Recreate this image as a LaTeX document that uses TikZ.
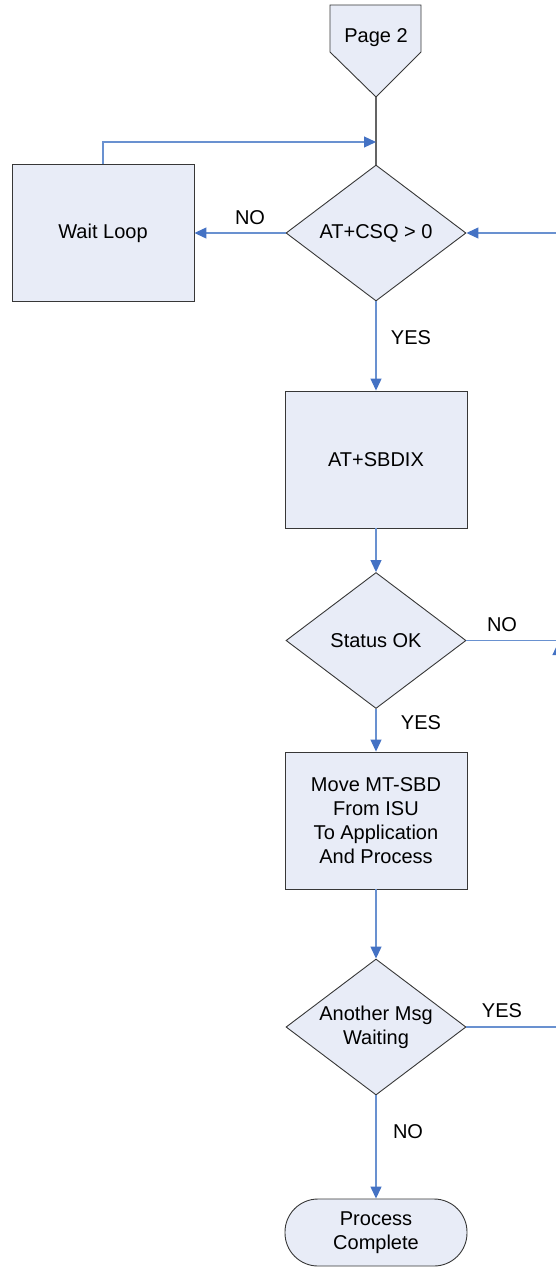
\documentclass[tikz,border=0pt]{standalone}
\usepackage{fontspec}
\setmainfont{Liberation Sans}
\usetikzlibrary{arrows.meta,shapes.geometric,calc}
\definecolor{boxfill}{RGB}{232,236,247}
\definecolor{boxdraw}{RGB}{55,55,55}
\definecolor{conn}{RGB}{105,145,208}
\definecolor{tip}{RGB}{68,114,196}
\definecolor{grayline}{RGB}{100,100,100}
\tikzset{
  base/.style={draw=boxdraw, fill=boxfill, line width=0.9pt, align=center,
    font=\fontsize{20}{24}\selectfont, inner sep=0pt},
  procbox/.style={base, rectangle, minimum width=182pt, minimum height=137pt},
  decision/.style={base, diamond, minimum width=180pt, minimum height=136pt, aspect=1.32},
  terminal/.style={base, rectangle, rounded corners=33pt, minimum width=182pt, minimum height=67pt},
  arr/.style={draw=conn, line width=1.2pt, -{Triangle[length=12pt,width=11pt,fill=tip,color=tip]}},
  plain/.style={draw=conn, line width=1.2pt},
  lbl/.style={font=\fontsize{20}{24}\selectfont, inner sep=0pt},
}
\begin{document}
\begin{tikzpicture}[x=1pt,y=-1pt]
\useasboundingbox (0,0) rectangle (556,1268);
\clip (0,0) rectangle (556,1268);
% off-page connector
\draw[draw=boxdraw, fill=boxfill, line width=0.9pt]
  (330,5) -- (421,5) -- (421,52) -- (376,97) -- (330,52) -- cycle;
\node[lbl] (page2) at (376,38) {Page 2};
\coordinate (page2tip) at (376,97);
% nodes
\node[procbox] (wait) at (103,233) {Wait Loop};
\node[decision] (csq) at (376,233) {AT+CSQ > 0};
\node[procbox] (sbdix) at (376,459.5) {AT+SBDIX};
\node[decision] (status) at (376,640.5) {Status OK};
\node[procbox] (move) at (376,820.5) {Move MT-SBD\\From ISU\\To Application\\And Process};
\node[decision] (another) at (376,1027) {Another Msg\\Waiting};
\node[terminal] (done) at (376,1232.5) {Process\\Complete};
% coordinates
\coordinate (top) at (376,142);
\coordinate (r1) at (558,233);
\coordinate (r2) at (558,640.5);
\coordinate (r2a) at (558,643);
\coordinate (r3) at (558,1027);
% connectors
\draw[draw=grayline, line width=1.4pt] (page2tip) -- (csq.north);
\draw[arr] (wait.north) |- (top);
\draw[arr] (csq.west) -- (wait.east);
\draw[arr] (csq.south) -- (sbdix.north);
\draw[arr] (sbdix.south) -- (status.north);
\draw[arr] (status.south) -- (move.north);
\draw[arr] (move.south) -- (another.north);
\draw[arr] (another.south) -- (done.north);
\draw[arr] (status.east) -- (r2) -- (r1) -- (csq.east);
\draw[arr] (another.east) -- (r3) -- (r2a);
% labels
\node[lbl] (lno1) at (250,218) {NO};
\node[lbl] (lyes1) at (411,338) {YES};
\node[lbl] (lno2) at (502,625) {NO};
\node[lbl] (lyes2) at (421,723) {YES};
\node[lbl] (lyes3) at (502,1011) {YES};
\node[lbl] (lno3) at (408,1132) {NO};
\end{tikzpicture}
\end{document}
